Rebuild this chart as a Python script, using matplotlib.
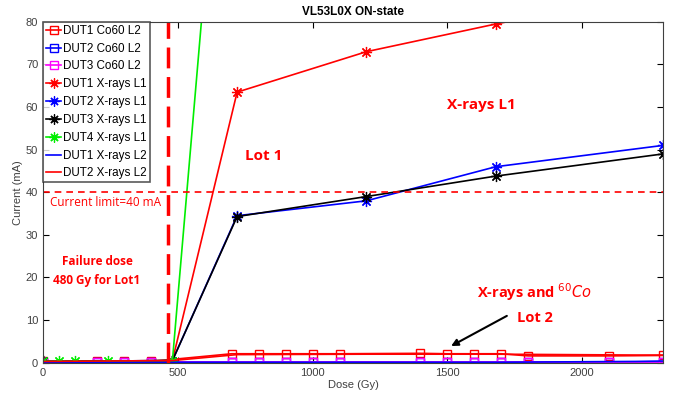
import matplotlib.pyplot as plt

# Co60 irradiation (Lot 2)
dose_co = [0, 200, 300, 400, 700, 800, 900, 1000, 1100, 1400, 1500, 1600, 1700, 1800, 2100, 2300]
dut1_co = [0.3, 0.3, 0.3, 0.3, 2.1, 2.1, 2.1, 2.1, 2.1, 2.2, 2.1, 2.1, 2.1, 1.6, 1.6, 1.7]
dut2_co = [0.1, 0.1, 0.1, 0.1, 0.1, 0.1, 0.1, 0.1, 0.1, 0.1, 0.1, 0.1, 0.1, 0.1, 0.1, 0.1]
dut3_co = [0.2, 0.2, 0.2, 0.2, 0.2, 0.2, 0.2, 0.2, 0.2, 0.2, 0.2, 0.2, 0.2, 0.2, 0.2, 0.2]

# X-rays Lot 1
dose_l1 = [0, 480, 720, 1200, 1680, 2300]
dut1_l1 = [0.3, 0.5, 63.5, 73.0, 79.5, 87.0]
dut2_l1 = [0.3, 0.5, 34.5, 38.0, 46.0, 51.0]
dut3_l1 = [0.3, 0.5, 34.3, 39.0, 43.8, 49.0]
dose_dut4 = [0, 60, 120, 240, 480, 720]
dut4_l1 = [0.3, 0.3, 0.3, 0.3, 0.5, 178.0]

# X-rays Lot 2
dose_l2 = [0, 480, 720, 1200, 1680, 2200, 2300]
dut1_l2 = [0.1, 0.1, 0.1, 0.1, 0.1, 0.3, 0.4]
dut2_l2 = [0.3, 0.5, 1.9, 2.0, 2.0, 1.8, 1.8]

current_limit = 40
failure_dose = 462

ast = (8, 2, 0)   # matlab-like asterisk


def plot():
    plt.rcParams['font.family'] = ['Liberation Sans', 'DejaVu Sans']
    fig = plt.figure(figsize=(6.73, 4.01), dpi=100)
    ax = fig.add_axes([0.064, 0.0955, 0.921, 0.85])

    ax.plot(dose_co, dut1_co, color='red', marker='s', mfc='none', ms=6, lw=1.2, label='DUT1 Co60 L2')
    ax.plot(dose_co, dut2_co, color='blue', marker='s', mfc='none', ms=6, lw=1.2, label='DUT2 Co60 L2')
    ax.plot(dose_co, dut3_co, color='magenta', marker='s', mfc='none', ms=6, lw=1.2, label='DUT3 Co60 L2')
    ax.plot(dose_l1, dut1_l1, color='red', marker=ast, ms=8, mew=0.9, lw=1.2, label='DUT1 X-rays L1')
    ax.plot(dose_l1, dut2_l1, color='blue', marker=ast, ms=8, mew=0.9, lw=1.2, label='DUT2 X-rays L1')
    ax.plot(dose_l1, dut3_l1, color='black', marker=ast, ms=8, mew=0.9, lw=1.2, label='DUT3 X-rays L1')
    ax.plot(dose_dut4, dut4_l1, color='#00ee00', marker=ast, ms=8, mew=0.9, lw=1.2, label='DUT4 X-rays L1')
    ax.plot(dose_l2, dut1_l2, color='blue', lw=1.2, label='DUT1 X-rays L2')
    ax.plot(dose_l2, dut2_l2, color='red', lw=1.2, label='DUT2 X-rays L2')

    ax.axhline(current_limit, color='red', ls=(0, (4, 3)), lw=1.2)
    ax.axvline(failure_dose, color='red', ls=(0, (6, 2.5)), lw=2.5)

    ax.set_xlim(0, 2300)
    ax.set_ylim(0, 80)
    ax.set_xticks([0, 500, 1000, 1500, 2000])
    ax.set_yticks([0, 10, 20, 30, 40, 50, 60, 70, 80])
    ax.tick_params(direction='in', top=True, right=True, labelsize=8, colors='#404040', length=4)
    ax.tick_params(axis='both', which='both', color='black')
    for s in ax.spines.values():
        s.set_color('#404040')
    ax.set_xlabel('Dose (Gy)', fontsize=8, color='#404040', labelpad=2)
    ax.set_ylabel('Current (mA)', fontsize=8, color='#404040', labelpad=2)
    ax.set_title('VL53L0X ON-state', fontsize=8.5, fontweight='bold', pad=5)

    leg = ax.legend(loc='upper left', fontsize=8.4, frameon=True, fancybox=False,
                    edgecolor='#303030', handlelength=1.3, handletextpad=0.2,
                    borderpad=0.25, labelspacing=0.5, borderaxespad=0.0, markerscale=0.9)
    leg.get_frame().set_linewidth(1.2)

    ax.text(25, 37.5, 'Current limit=40 mA', color='red', fontsize=8.5, va='center',
            family=['Open Sans', 'DejaVu Sans'])
    ax.text(200, 21.5, 'Failure dose\n480 Gy for Lot1', color='red', fontsize=8.5,
            fontweight='bold', ha='center', va='center', linespacing=1.55,
            family=['Open Sans', 'DejaVu Sans'])
    ax.text(820, 48.5, 'Lot 1', color='red', fontsize=11, fontweight='bold',
            ha='center', va='center', family=['Open Sans', 'DejaVu Sans'])
    ax.text(1625, 60.5, 'X-rays L1', color='red', fontsize=11, fontweight='bold',
            ha='center', va='center', family=['Open Sans', 'DejaVu Sans'])
    ax.text(1825, 14.0, 'X-rays and $^{60}$$\\mathit{Co}$\nLot 2', color='red', fontsize=10.5,
            fontweight='bold', ha='center', va='center', linespacing=1.7,
            family=['Open Sans', 'DejaVu Sans'])
    ax.annotate('', xy=(1505, 3.6), xytext=(1730, 11.3),
                arrowprops=dict(arrowstyle='-|>', color='black', lw=1.5, mutation_scale=10))

    plt.savefig('out.png', dpi=100)


def main():
    plot()


if __name__ == '__main__':
    main()
